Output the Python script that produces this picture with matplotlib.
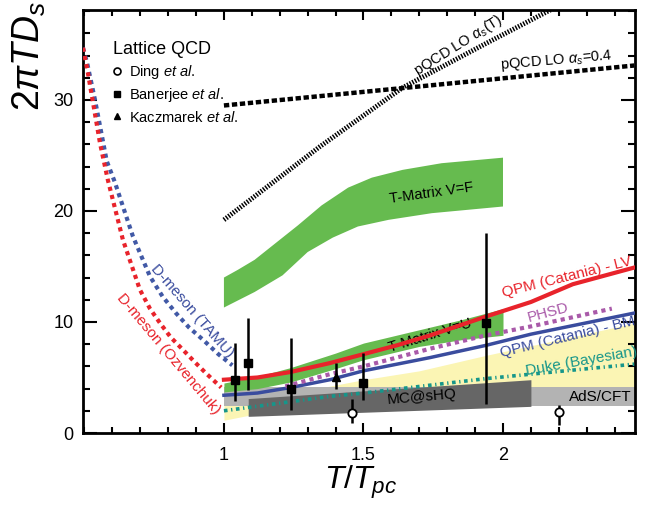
import matplotlib
matplotlib.use('Agg')
import matplotlib.pyplot as plt
from matplotlib.lines import Line2D
from matplotlib.ticker import MultipleLocator, FixedLocator
import numpy as np

plt.rcParams['font.family'] = ['Liberation Sans', 'DejaVu Sans']
plt.rcParams['mathtext.fontset'] = 'custom'
plt.rcParams['mathtext.rm'] = 'Liberation Sans'
plt.rcParams['mathtext.it'] = 'Liberation Sans:italic'
plt.rcParams['mathtext.bf'] = 'Liberation Sans:bold'

# --- curvas ---
pqcd04_x = [1.0, 2.47]
pqcd04_y = [29.5, 33.1]
pqcdT_x = [1.0, 1.344, 1.64, 1.94, 2.2]
pqcdT_y = [19.2, 25.8, 31.1, 35.1, 38.5]

tamu_x = [0.495, 0.51, 0.538, 0.58, 0.609, 0.674, 0.735, 0.78, 0.828, 0.875, 0.925, 0.98, 1.03]
tamu_y = [34.7, 33.3, 30.0, 24.5, 22.6, 17.7, 14.1, 12.3, 10.8, 9.5, 8.4, 7.1, 6.1]
ozv_x = [0.495, 0.51, 0.556, 0.584, 0.638, 0.699, 0.735, 0.771, 0.81, 0.853, 0.895, 0.935, 0.99]
ozv_y = [34.7, 32.8, 26.1, 22.8, 17.4, 12.9, 11.2, 9.9, 8.6, 7.5, 6.4, 5.4, 4.1]

lv_x = [1.0, 1.12, 1.24, 1.38, 1.5, 1.62, 1.74, 1.94, 2.1, 2.25, 2.47]
lv_y = [4.8, 5.0, 5.5, 6.3, 7.1, 7.9, 8.8, 10.5, 11.8, 13.4, 14.9]
bm_x = [1.0, 1.12, 1.24, 1.38, 1.5, 1.74, 1.94, 2.1, 2.47]
bm_y = [3.4, 3.6, 4.1, 4.8, 5.6, 6.8, 7.9, 8.9, 10.8]
phsd_x = [1.22, 1.38, 1.5, 1.74, 1.94, 2.1, 2.39]
phsd_y = [4.2, 5.3, 6.0, 7.6, 8.8, 9.6, 11.2]
duke_x = [1.0, 1.38, 1.5, 1.94, 2.1, 2.47]
duke_y = [2.0, 3.3, 3.6, 4.9, 5.3, 6.2]

# --- bandas ---
vf_top_x = [1.0, 1.05, 1.11, 1.18, 1.265, 1.35, 1.445, 1.53, 1.64, 1.78, 2.0]
vf_top_y = [14.0, 14.7, 15.6, 17.0, 18.7, 20.5, 22.1, 23.0, 23.7, 24.3, 24.8]
vf_bot_x = [1.0, 1.11, 1.21, 1.30, 1.39, 1.48, 1.59, 1.745, 2.0]
vf_bot_y = [11.3, 12.7, 14.2, 16.3, 17.6, 18.6, 19.2, 19.8, 20.4]
vu_x = [1.0, 1.12, 1.24, 1.4, 1.5, 1.7, 1.85, 2.0]
vu_hi = [4.5, 5.1, 5.9, 7.2, 8.1, 9.3, 10.2, 11.2]
vu_lo = [3.7, 4.0, 4.6, 5.8, 6.6, 7.8, 8.4, 8.8]
duke_band_x = [1.0, 1.09, 1.25, 1.5, 1.7, 1.94, 2.2, 2.47]
duke_band_hi = [2.8, 3.1, 3.6, 4.8, 5.6, 7.0, 8.4, 9.9]
duke_band_lo = [1.15, 1.6, 1.8, 2.2, 2.5, 2.8, 3.0, 3.2]
ads_x = [1.0, 2.5]
ads_lo = [2.4, 2.4]
ads_hi = [4.1, 4.1]
mc_x = [1.087, 2.1]
mc_lo = [1.5, 2.4]
mc_hi = [3.1, 4.8]

# --- lattice QCD ---
ding_x = [1.46, 2.2]
ding_y = [1.8, 1.9]
ding_hi = [3.1, 2.5]
ding_lo = [0.9, 0.7]
ban_x = [1.04, 1.087, 1.24, 1.5, 1.94]
ban_y = [4.8, 6.3, 4.0, 4.5, 9.9]
ban_hi = [8.1, 10.4, 8.6, 7.2, 18.0]
ban_lo = [2.9, 3.9, 2.1, 3.0, 2.6]
kac_x = [1.40]
kac_y = [5.0]
kac_hi = [6.3]
kac_lo = [4.0]

rojo = '#e8232b'
azul = '#3a4c9e'
azul_p = '#4159a6'
morado = '#a95aa9'
teal = '#16968a'
verde = '#66bb4f'

fig = plt.figure(figsize=(6.5, 5.05), dpi=100)
ax = fig.add_axes([83/650, 1-433/505, (635-83)/650, (433-10)/505])

ax.fill_between(duke_band_x, duke_band_lo, duke_band_hi, color='#fbf5b4', lw=0, zorder=1)
ax.fill_between(ads_x, ads_lo, ads_hi, color='#b3b3b3', lw=0, zorder=2)
ax.fill_between(mc_x, mc_lo, mc_hi, color='#666666', lw=0, zorder=3)
ax.fill_between(vu_x, vu_lo, vu_hi, color=verde, lw=0, zorder=3)
ax.fill(vf_top_x + vf_bot_x[::-1], vf_top_y + vf_bot_y[::-1], color=verde, lw=0, zorder=3)

ax.plot(pqcd04_x, pqcd04_y, color='k', lw=3.2, ls=(0, (1.2, 0.6)), zorder=4)
ax.plot(pqcdT_x, pqcdT_y, color='k', lw=3.5, ls=(0, (0.3, 0.3)), zorder=4)
ax.plot(tamu_x, tamu_y, color=azul_p, lw=3, ls=(0, (1, 1)), zorder=4)
ax.plot(ozv_x, ozv_y, color=rojo, lw=3, ls=(0, (1, 1)), zorder=4)
ax.plot(duke_x, duke_y, color=teal, lw=2.6, ls=(0, (1, 1, 0.35, 1)), zorder=4)
ax.plot(bm_x, bm_y, color=azul, lw=2.5, zorder=5)
ax.plot(phsd_x, phsd_y, color=morado, lw=3, ls=(0, (1, 1)), zorder=5)
ax.plot(lv_x, lv_y, color=rojo, lw=3, zorder=5)

def barras(x, y, lo, hi, **kw):
    y = np.array(y)
    yerr = [y - np.array(lo), np.array(hi) - y]
    ax.errorbar(x, y, yerr=yerr, color='k', elinewidth=1.8, capsize=0, ls='none', zorder=6, **kw)

barras(ding_x, ding_y, ding_lo, ding_hi, marker='o', ms=6, mfc='white', mec='k', mew=1.3)
barras(ban_x, ban_y, ban_lo, ban_hi, marker='s', ms=6)
barras(kac_x, kac_y, kac_lo, kac_hi, marker='^', ms=6)

# etiquetas
ax.text(1.84, 34.9, r'pQCD LO $\alpha_s$(T)', rotation=32, fontsize=10.5, ha='center', va='center', rotation_mode='anchor')
ax.text(2.19, 33.5, r'pQCD LO $\alpha_s$=0.4', rotation=5, fontsize=10.5, ha='center', va='center', rotation_mode='anchor')
ax.text(1.745, 21.6, 'T-Matrix V=F', rotation=8, fontsize=10.5, ha='center', va='center', rotation_mode='anchor')
ax.text(1.74, 8.8, 'T-Matrix V=U', rotation=17, fontsize=10.5, ha='center', va='center', rotation_mode='anchor')
ax.text(2.23, 14.0, 'QPM (Catania) - LV', rotation=14, fontsize=11, color=rojo, ha='center', va='center', rotation_mode='anchor')
ax.text(2.16, 10.8, 'PHSD', rotation=15, fontsize=11, color=morado, ha='center', va='center', rotation_mode='anchor')
ax.text(2.23, 8.6, 'QPM (Catania) - BM', rotation=13.5, fontsize=11, color=azul, ha='center', va='center', rotation_mode='anchor')
ax.text(2.28, 6.5, 'Duke (Bayesian)', rotation=10, fontsize=11, color=teal, ha='center', va='center', rotation_mode='anchor')
ax.text(1.71, 3.2, 'MC@sHQ', rotation=5, fontsize=11, ha='center', va='center', rotation_mode='anchor')
ax.text(2.35, 3.2, 'AdS/CFT', fontsize=11, ha='center', va='center')
ax.text(0.885, 11.0, 'D-meson (TAMU)', rotation=-49, fontsize=11, color=azul, ha='center', va='center', rotation_mode='anchor')
ax.text(0.80, 7.1, 'D-meson (Ozvenchuk)', rotation=-50, fontsize=11, color=rojo, ha='center', va='center', rotation_mode='anchor')

handles = [
    Line2D([], [], ls='none', marker='o', ms=5, mfc='white', mec='k', mew=1.2),
    Line2D([], [], ls='none', marker='s', ms=5, color='k'),
    Line2D([], [], ls='none', marker='^', ms=5, color='k'),
]
etiquetas = [r'Ding $et\ al.$', r'Banerjee $et\ al.$', r'Kaczmarek $et\ al.$']
leg = ax.legend(handles, etiquetas, title='Lattice QCD', loc='upper left', frameon=False,
                bbox_to_anchor=(0.043, 0.94), borderaxespad=0,
                fontsize=10.5, title_fontsize=13, handlelength=0.6, handletextpad=0.5,
                labelspacing=0.35, alignment='left')

ax.set_xlim(0.495, 2.473)
ax.set_ylim(0, 38.1)
ax.xaxis.set_major_locator(FixedLocator([1, 1.5, 2]))
ax.xaxis.set_minor_locator(MultipleLocator(0.1))
ax.yaxis.set_major_locator(MultipleLocator(10))
ax.yaxis.set_minor_locator(MultipleLocator(2))
ax.set_xticklabels(['1', '1.5', '2'])
ax.tick_params(which='both', direction='in', top=True, right=True, width=1.5, labelsize=13)
ax.tick_params(axis='x', which='major', length=7, pad=10)
ax.tick_params(axis='x', which='minor', length=4.5)
ax.tick_params(axis='y', which='major', length=10, pad=7)
ax.tick_params(axis='y', which='minor', length=5)
for s in ax.spines.values():
    s.set_linewidth(2)

fig.text(0.045, 0.89, r'$2\pi TD_s$', rotation=90, fontsize=27, ha='center', va='center')
fig.text(0.555, 0.045, r'$T/T_{pc}$', fontsize=23, ha='center', va='center')

plt.savefig('out.png', dpi=100)
plt.close()
